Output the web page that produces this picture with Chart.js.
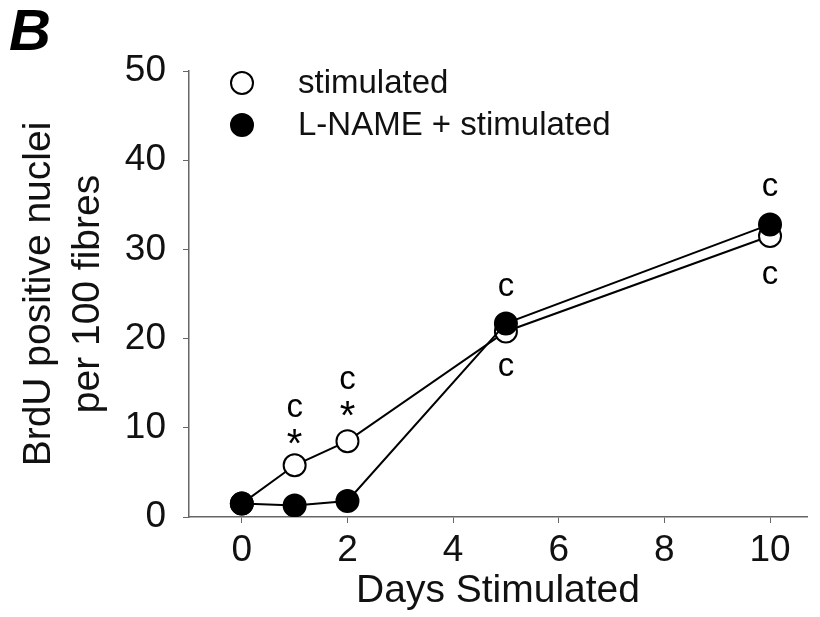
<!DOCTYPE html>
<html>
<head>
<meta charset="utf-8">
<script src="https://cdn.jsdelivr.net/npm/chart.js@4.4.1/dist/chart.umd.min.js"></script>
<style>
  html, body { margin: 0; padding: 0; background: #fff; }
  #wrap { width: 820px; height: 617px; }
</style>
</head>
<body>
<div id="wrap"><canvas id="chart" width="820" height="617"></canvas></div>
<script>
// --- data ---
const days = [0, 1, 2, 5, 10];
const stimulated = [1.5, 5.8, 8.5, 20.8, 31.5];
const lnameStimulated = [1.5, 1.3, 1.8, 21.7, 32.8];
const seriesNames = ['stimulated', 'L-NAME + stimulated'];

const xTicks = [0, 2, 4, 6, 8, 10];
const yTicks = [0, 10, 20, 30, 40, 50];

// significance marks (c / *) in data units
const markX = [1, 1, 2, 2, 5, 5, 10, 10];
const markY = [12.2, 9.0, 15.4, 12.1, 25.8, 16.8, 37.0, 27.1];
const markText = ['c', '*', 'c', '*', 'c', 'c', 'c', 'c'];

const FONT = "'Liberation Sans', Arial, sans-serif";
const AXIS = '#666';

const toPoints = (ys) => days.map((d, i) => ({ x: d, y: ys[i] }));

// panel letter, legend and the c/* marks
const extras = {
    id: 'extras',
    afterDatasetsDraw(chart) {
        const ctx = chart.ctx;
        const xs = chart.scales.x, ys = chart.scales.y;
        ctx.save();

        ctx.fillStyle = '#000';
        ctx.font = `italic bold 58px ${FONT}`;
        ctx.textBaseline = 'alphabetic';
        ctx.textAlign = 'left';
        ctx.fillText('B', 9, 50);

        // marks
        ctx.textAlign = 'center';
        ctx.textBaseline = 'middle';
        markText.forEach((t, i) => {
            ctx.font = t === '*' ? `40px ${FONT}` : `33px ${FONT}`;
            const dy = t === '*' ? 9 : 0;
            ctx.fillText(t, xs.getPixelForValue(markX[i]), ys.getPixelForValue(markY[i]) + dy);
        });

        // legend
        const rows = [83, 125];
        chart.data.datasets.slice().sort((a, b) => a.legendIndex - b.legendIndex).forEach((ds, i) => {
            ctx.beginPath();
            ctx.arc(242, rows[i], 11, 0, Math.PI * 2);
            ctx.fillStyle = ds.pointBackgroundColor;
            ctx.fill();
            ctx.lineWidth = 2;
            ctx.strokeStyle = '#000';
            ctx.stroke();
            ctx.fillStyle = '#111';
            ctx.font = `33px ${FONT}`;
            ctx.textAlign = 'left';
            ctx.fillText(ds.label, 298, rows[i] + 1);
        });
        ctx.restore();
    }
};

const lineStyle = {
    showLine: true,
    borderColor: '#000',
    borderWidth: 2,
    pointRadius: 11,
    pointHoverRadius: 11,
    pointBorderColor: '#000',
    pointBorderWidth: 2,
    tension: 0
};

new Chart(document.getElementById('chart'), {
    type: 'scatter',
    data: {
        datasets: [
            { ...lineStyle, label: seriesNames[1], legendIndex: 1, order: 0,
              data: toPoints(lnameStimulated), pointBackgroundColor: '#000' },
            { ...lineStyle, label: seriesNames[0], legendIndex: 0, order: 1,
              data: toPoints(stimulated), pointBackgroundColor: '#fff' }
        ]
    },
    options: {
        responsive: false,
        animation: false,
        layout: { padding: { top: 71, right: 10, left: 0, bottom: 0 } },
        plugins: { legend: { display: false }, tooltip: { enabled: false } },
        scales: {
            x: {
                type: 'linear',
                min: -1,
                max: 10.7,
                afterBuildTicks: (s) => { s.ticks = xTicks.map(v => ({ value: v })); },
                afterFit: (s) => { s.height = 100; },
                grid: { display: true, drawOnChartArea: false, drawTicks: true, tickLength: 6, tickColor: AXIS },
                border: { display: true, color: AXIS, width: 1.5 },
                ticks: { color: '#111', font: { family: FONT, size: 37 }, padding: 6, maxRotation: 0 },
                title: { display: true, text: 'Days Stimulated', color: '#111',
                         font: { family: FONT, size: 39 }, padding: { top: 0, bottom: 2 } }
            },
            y: {
                min: 0,
                max: 50,
                afterBuildTicks: (s) => { s.ticks = yTicks.map(v => ({ value: v })); },
                afterFit: (s) => { s.width = 189; },
                grid: { display: true, drawOnChartArea: false, drawTicks: true, tickLength: 6, tickColor: AXIS },
                border: { display: true, color: AXIS, width: 1.5 },
                ticks: { color: '#111', font: { family: FONT, size: 37 }, padding: 17 },
                title: { display: true, text: ['BrdU positive nuclei', 'per 100 fibres'], color: '#111',
                         font: { family: FONT, size: 39, lineHeight: 1.25 }, padding: { top: 15, bottom: 0 } }
            }
        }
    },
    plugins: [extras]
});
</script>
</body>
</html>
